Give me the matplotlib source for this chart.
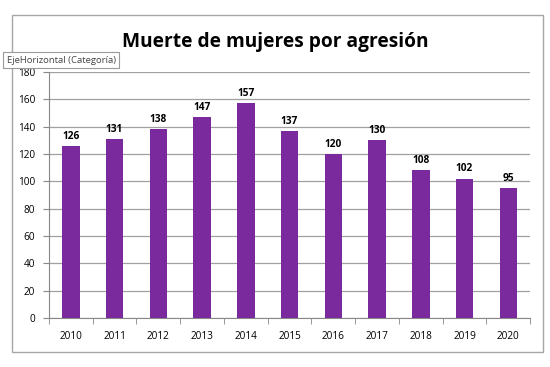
import matplotlib
matplotlib.use("Agg")
import matplotlib.pyplot as plt
from matplotlib.patches import Rectangle

years = ["2010", "2011", "2012", "2013", "2014", "2015", "2016", "2017", "2018", "2019", "2020"]
values = [126, 131, 138, 147, 157, 137, 120, 130, 108, 102, 95]
yticks = [0, 20, 40, 60, 80, 100, 120, 140, 160, 180]

plt.rcParams['font.family'] = ['Open Sans', 'DejaVu Sans']

fig = plt.figure(figsize=(5.5, 3.67), dpi=100)
fig.patch.set_facecolor('white')

# chart border
fig.patches.append(Rectangle((0.022, 0.041), 0.965, 0.918, transform=fig.transFigure,
                             fill=False, edgecolor='#a6a6a6', linewidth=1.0))

ax = fig.add_axes([0.089, 0.1335, 0.875, 0.6705])
x = list(range(len(years)))
ax.bar(x, values, width=0.4, color='#7b2a9e', zorder=3)
for xi, v in zip(x, values):
    ax.text(xi, v + 3, str(v), ha='center', va='bottom', fontsize=7.3, fontweight='bold', color='black')

ax.set_xlim(-0.5, len(years) - 0.5)
ax.set_ylim(0, 180)
ax.set_yticks(yticks)
ax.set_yticklabels([str(t) for t in yticks], fontsize=7.2)
ax.set_xticks(x)
ax.set_xticklabels(years, fontsize=7.2)
ax.tick_params(axis='x', length=0, pad=9)
ax.set_xticks([i - 0.5 for i in range(len(years) + 1)], minor=True)
ax.tick_params(axis='x', which='minor', length=4, color='#888888', direction='out')
ax.tick_params(axis='y', length=4, color='#888888', direction='out', pad=6)
ax.grid(axis='y', color='#a0a0a0', linewidth=0.9, zorder=0)
for s in ['top', 'right']:
    ax.spines[s].set_visible(False)
ax.spines['left'].set_color('#888888')
ax.spines['bottom'].set_color('#888888')

fig.text(0.5, 0.885, 'Muerte de mujeres por agresión', ha='center', va='center',
         fontsize=13.8, fontweight='bold')

fig.text(0.012, 0.836, 'EjeHorizontal (Categoría)', ha='left', va='center', fontsize=6.8,
         color='#444444',
         bbox=dict(boxstyle='square,pad=0.35', facecolor='white', edgecolor='#9a9a9a', linewidth=0.8))

fig.savefig('out.png', dpi=100)
